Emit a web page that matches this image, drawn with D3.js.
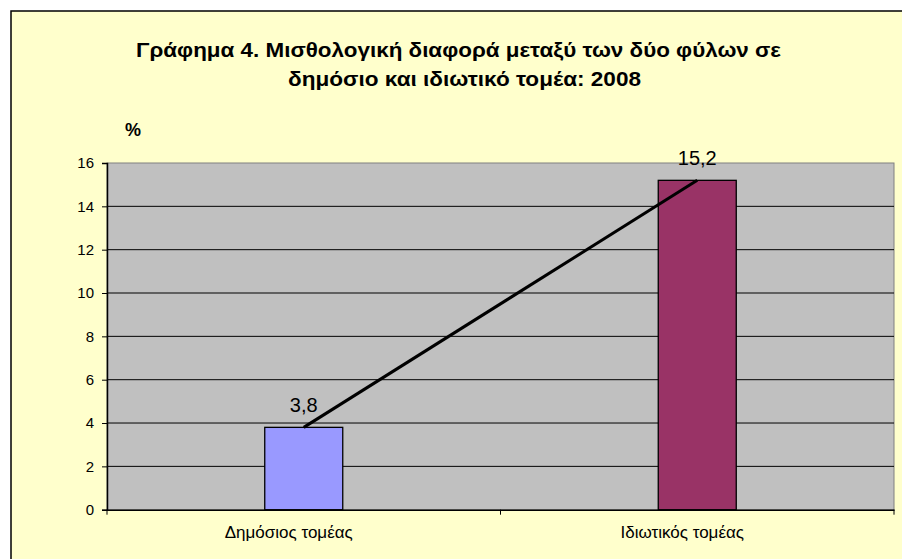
<!DOCTYPE html>
<html>
<head>
<meta charset="utf-8">
<script src="https://cdn.jsdelivr.net/npm/d3@7"></script>
<style>
  body { margin: 0; background: #fff; }
  svg { display: block; }
</style>
</head>
<body>
<svg id="chart"></svg>
<script>
const categories = ["Δημόσιος τομέας", "Ιδιωτικός τομέας"];
const values = [3.8, 15.2];
const valueLabels = ["3,8", "15,2"];
const yTicks = [0, 2, 4, 6, 8, 10, 12, 14, 16];
const barColors = ["#9999FF", "#993366"];
const titleLines = [
  "Γράφημα 4. Μισθολογική διαφορά μεταξύ των δύο φύλων σε",
  "δημόσιο και ιδιωτικό τομέα: 2008"
];

const width = 902;
const height = 559;
const plot = { left: 107, top: 163, right: 894, bottom: 509.7 };
const font = "Arial, 'Liberation Sans', sans-serif";

const svg = d3.select("#chart").attr("width", width).attr("height", height);

// chart area (frame runs off the right/bottom of the picture)
svg.append("rect")
  .attr("x", 11).attr("y", 11)
  .attr("width", width).attr("height", height)
  .attr("fill", "#FFFFCC")
  .attr("stroke", "#000").attr("stroke-width", 1.5);

const x = d3.scaleBand().domain(categories).range([plot.left, plot.right]);
const y = d3.scaleLinear().domain([0, 16]).range([plot.bottom, plot.top]);

svg.append("rect")
  .attr("x", plot.left).attr("y", plot.top)
  .attr("width", plot.right - plot.left).attr("height", plot.bottom - plot.top)
  .attr("fill", "#C0C0C0")
  .attr("stroke", "#808080").attr("stroke-width", 1);

// gridlines
svg.append("g")
  .selectAll("line")
  .data(yTicks.filter((d) => d > 0 && d < 16))
  .join("line")
  .attr("x1", plot.left).attr("x2", plot.right)
  .attr("y1", (d) => y(d)).attr("y2", (d) => y(d))
  .attr("stroke", "#000").attr("stroke-width", 1);

// y axis
const yAxis = svg.append("g")
  .attr("transform", `translate(${plot.left},0)`)
  .call(d3.axisLeft(y).tickValues(yTicks).tickSize(5).tickPadding(8).tickFormat(d3.format("d")));
yAxis.select(".domain").attr("stroke", "#000").attr("stroke-width", 1.5);
yAxis.selectAll(".tick line").attr("stroke", "#000");
yAxis.selectAll("text")
  .attr("font-family", font)
  .attr("font-size", 15).attr("fill", "#000");

// x axis
const xAxis = svg.append("g")
  .attr("transform", `translate(0,${plot.bottom})`)
  .call(d3.axisBottom(x).tickSize(0).tickPadding(16));
xAxis.select(".domain").attr("stroke", "#000").attr("stroke-width", 1.5);
xAxis.selectAll("text")
  .attr("font-family", font)
  .attr("font-size", 17).attr("fill", "#000")
  .attr("dx", -15);
// category boundary ticks
svg.append("g")
  .selectAll("line")
  .data([plot.left, plot.left + x.step(), plot.right])
  .join("line")
  .attr("x1", (d) => d).attr("x2", (d) => d)
  .attr("y1", plot.bottom).attr("y2", plot.bottom + 5)
  .attr("stroke", "#000").attr("stroke-width", 1);

// bars
const barW = 78;
const cx = (d) => x(d) + x.bandwidth() / 2;
svg.append("g")
  .selectAll("rect")
  .data(categories)
  .join("rect")
  .attr("x", (d) => cx(d) - barW / 2)
  .attr("y", (d, i) => y(values[i]))
  .attr("width", barW)
  .attr("height", (d, i) => y(0) - y(values[i]))
  .attr("fill", (d, i) => barColors[i])
  .attr("stroke", "#000").attr("stroke-width", 1.3);

// connecting line
const line = d3.line().x((d) => cx(d)).y((d, i) => y(values[i]));
svg.append("path")
  .attr("d", line(categories))
  .attr("fill", "none")
  .attr("stroke", "#000").attr("stroke-width", 3);

// value labels
svg.append("g")
  .selectAll("text")
  .data(categories)
  .join("text")
  .attr("x", cx)
  .attr("y", (d, i) => y(values[i]) - 15)
  .attr("text-anchor", "middle")
  .attr("font-family", font)
  .attr("font-size", 20)
  .text((d, i) => valueLabels[i]);

// title: glyphs in the original are tall and narrow, so stretch to measured widths
const titlePos = [
  { x: 136, y: 56.5, w: 645 },
  { x: 288, y: 85.5, w: 353 }
];
svg.append("g")
  .selectAll("text")
  .data(titleLines)
  .join("text")
  .attr("x", (d, i) => titlePos[i].x)
  .attr("y", (d, i) => titlePos[i].y)
  .attr("textLength", (d, i) => titlePos[i].w)
  .attr("lengthAdjust", "spacingAndGlyphs")
  .attr("font-family", font)
  .attr("font-weight", "bold")
  .attr("font-size", 20)
  .attr("fill", "#000")
  .text((d) => d);

svg.append("text")
  .attr("x", 125).attr("y", 135.5)
  .attr("font-family", font)
  .attr("font-weight", "bold")
  .attr("font-size", 18)
  .text("%");
</script>
</body>
</html>
